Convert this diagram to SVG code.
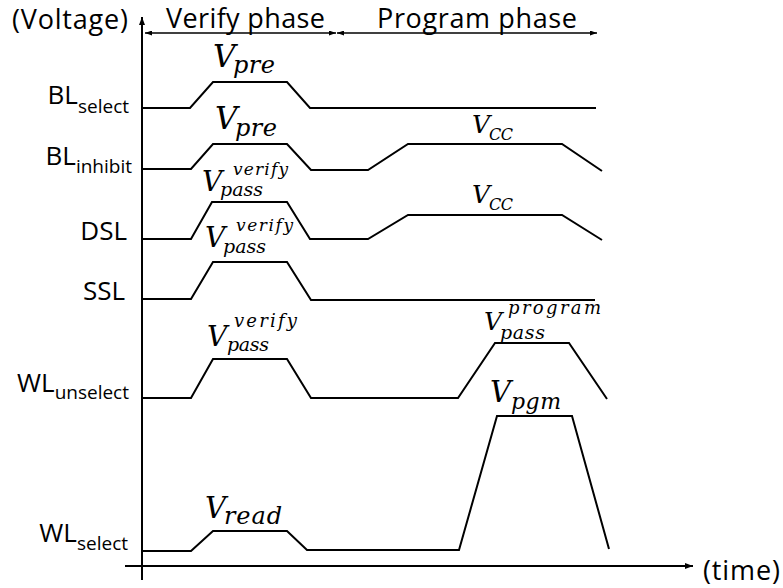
<svg xmlns="http://www.w3.org/2000/svg" width="783" height="588" viewBox="0 0 783 588">
<defs>
<marker id="ah" markerUnits="userSpaceOnUse" markerWidth="8" markerHeight="6" refX="8" refY="3" orient="auto-start-reverse" viewBox="0 0 8 6">
<path d="M0,0 L8,3 L0,6 z" fill="#000"/>
</marker>
<marker id="ahs" markerUnits="userSpaceOnUse" markerWidth="7" markerHeight="5" refX="7" refY="2.5" orient="auto-start-reverse" viewBox="0 0 7 5">
<path d="M0,0 L7,2.5 L0,5 z" fill="#000"/>
</marker>
</defs>
<style>
.sig{fill:none;stroke:#000;stroke-width:2;stroke-linejoin:miter}
.ax{fill:none;stroke:#000;stroke-width:2}
.ph{fill:none;stroke:#000;stroke-width:1.3}
.t{font-family:"Open Sans","Liberation Sans",sans-serif;fill:#000}
.lb{font-family:"Open Sans","Liberation Sans",sans-serif;fill:#000;font-size:26px;text-anchor:end}
.sb{font-size:19px}
.m{font-family:"DejaVu Serif","Liberation Serif",serif;font-style:italic;fill:#000}
</style>
<rect width="783" height="588" fill="#fff"/>

<g id="connectors">
<line class="ax" x1="142" y1="580" x2="142" y2="17" marker-end="url(#ah)"/>
<line class="ax" x1="125" y1="566" x2="693" y2="566" marker-end="url(#ah)"/>
<line class="ph" x1="145" y1="33" x2="336" y2="33" marker-start="url(#ahs)" marker-end="url(#ahs)"/>
<line class="ph" x1="337" y1="33" x2="597" y2="33" marker-start="url(#ahs)" marker-end="url(#ahs)"/>
</g>

<g id="axis-labels">
<text class="t" x="12" y="29" font-size="27" textLength="116">(Voltage)</text>
<text class="t" x="703" y="580" font-size="27" textLength="77">(time)</text>
<text class="t" x="166" y="28" font-size="27" textLength="159">Verify phase</text>
<text class="t" x="377" y="28" font-size="27" textLength="200">Program phase</text>
</g>

<g id="bl-select">
<text class="lb" x="129" y="104">BL<tspan class="sb" dy="9">select</tspan></text>
<polyline class="sig" points="142,108 190,108 213,82 287,82 310,108 596,108"/>
<text class="m" x="213" y="67" font-size="31">V</text>
<text class="m" x="233" y="73" font-size="24" textLength="42">pre</text>
</g>

<g id="bl-inhibit">
<text class="lb" x="132" y="165">BL<tspan class="sb" dy="8">inhibit</tspan></text>
<polyline class="sig" points="142,169 191,169 213,144 287,144 311,170 368,170 408,144 562,144 602,171"/>
<text class="m" x="215" y="129" font-size="31">V</text>
<text class="m" x="235" y="136" font-size="24" textLength="42">pre</text>
<text class="m" x="472" y="133" font-size="25">V</text>
<text class="m" x="489" y="140" font-size="16" textLength="24">CC</text>
</g>

<g id="dsl">
<text class="lb" x="127" y="240">DSL</text>
<polyline class="sig" points="142,239 191,239 212,202 287,202 310,239 368,239 408,215 562,215 602,240"/>
<text class="m" x="202" y="191" font-size="28">V</text>
<text class="m" x="233" y="175" font-size="17" textLength="55">verify</text>
<text class="m" x="220" y="196" font-size="19" textLength="43">pass</text>
<text class="m" x="472" y="203" font-size="25">V</text>
<text class="m" x="489" y="210" font-size="16" textLength="24">CC</text>
</g>

<g id="ssl">
<text class="lb" x="125" y="300">SSL</text>
<polyline class="sig" points="142,299 191,299 213,262 287,262 311,300 595,300"/>
<text class="m" x="205" y="247" font-size="28">V</text>
<text class="m" x="236" y="231" font-size="17" textLength="57">verify</text>
<text class="m" x="223" y="253" font-size="19" textLength="43">pass</text>
</g>

<g id="wl-unselect">
<text class="lb" x="129" y="392">WL<tspan class="sb" dy="7">unselect</tspan></text>
<polyline class="sig" points="142,398 191,398 213,359 287,359 311,398 458,398 495,343 569,343 607,399"/>
<text class="m" x="207" y="346" font-size="28">V</text>
<text class="m" x="234" y="327" font-size="18" textLength="63">verify</text>
<text class="m" x="227" y="351" font-size="19" textLength="42">pass</text>
<text class="m" x="484" y="330" font-size="25">V</text>
<text class="m" x="508" y="314" font-size="18" textLength="93">program</text>
<text class="m" x="500" y="339" font-size="19" textLength="45">pass</text>
</g>

<g id="wl-select">
<text class="lb" x="128" y="542">WL<tspan class="sb" dy="8">select</tspan></text>
<polyline class="sig" points="142,551 191,551 213,531 287,531 307,550 459,550 497,416 572,416 609,549"/>
<text class="m" x="205" y="518" font-size="29">V</text>
<text class="m" x="224" y="524" font-size="24" textLength="58">read</text>
<text class="m" x="490" y="402" font-size="29">V</text>
<text class="m" x="511" y="409" font-size="22" textLength="50">pgm</text>
</g>
</svg>
